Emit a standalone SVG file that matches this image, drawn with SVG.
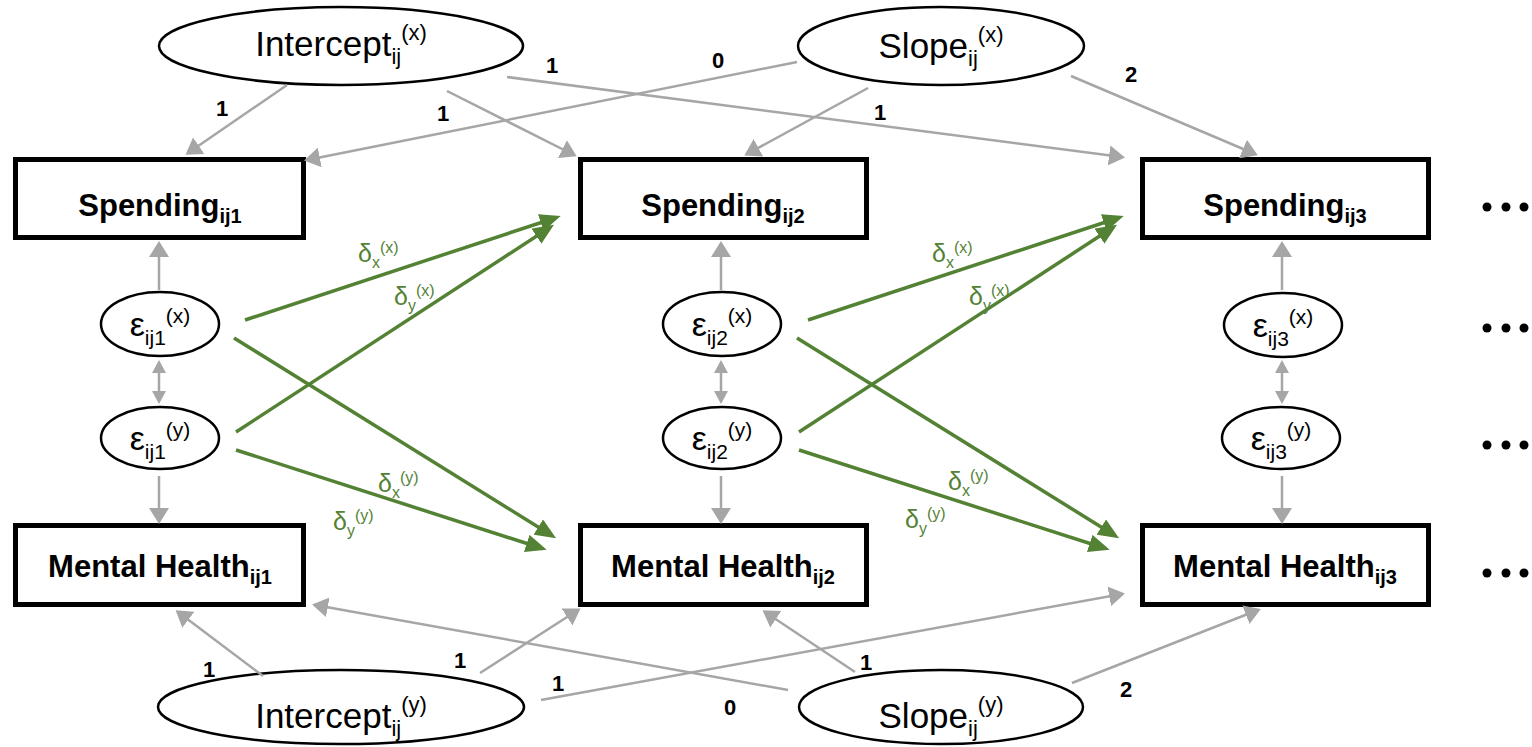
<svg xmlns="http://www.w3.org/2000/svg" width="1532" height="747" viewBox="0 0 1532 747">
<defs>
<style>
.box{fill:#fff;stroke:#000;stroke-width:5}
.ell{fill:#fff;stroke:#000;stroke-width:2.5}
.bt{font-family:"Liberation Sans",Arial,sans-serif;font-weight:bold;font-size:31px;fill:#000}
.et{font-family:"Liberation Sans",Arial,sans-serif;font-size:35px;fill:#000}
.ep{font-family:"Liberation Sans",Arial,sans-serif;font-size:34px;fill:#000}
.g{stroke:#a6a6a6;stroke-width:2.5;fill:none}
.gr{stroke:#548235;stroke-width:3.5;fill:none}
.lab{font-family:"Liberation Sans",Arial,sans-serif;font-weight:bold;font-size:22px;fill:#000;text-anchor:middle}
.dl{font-family:"Liberation Sans",Arial,sans-serif;font-size:25px;fill:#548235}
</style>
<marker id="ag" markerUnits="userSpaceOnUse" markerWidth="18" markerHeight="20" refX="13" refY="10" orient="auto">
<path d="M0,0 L16,10 L0,20 Z" fill="#a6a6a6"/>
</marker>
<marker id="as" markerUnits="userSpaceOnUse" markerWidth="14" markerHeight="14" refX="10" refY="7" orient="auto-start-reverse">
<path d="M0,0 L13,7 L0,14 Z" fill="#a6a6a6"/>
</marker>
<marker id="agr" markerUnits="userSpaceOnUse" markerWidth="22" markerHeight="18" refX="15" refY="9" orient="auto">
<path d="M0,0 L21,9 L0,18 Z" fill="#548235"/>
</marker>
</defs>
<rect width="1532" height="747" fill="#fff"/>

<g id="intercept-x">
<ellipse class="ell" cx="341" cy="46" rx="182" ry="39"/>
<text class="et" x="341" y="56" text-anchor="middle">Intercept<tspan font-size="22" dy="8">ij</tspan><tspan font-size="22" dy="-24">(x)</tspan></text>
</g>
<g id="slope-x">
<ellipse class="ell" cx="941" cy="46" rx="143" ry="39"/>
<text class="et" x="941" y="58" text-anchor="middle">Slope<tspan font-size="22" dy="8">ij</tspan><tspan font-size="22" dy="-24">(x)</tspan></text>
</g>

<g id="spending1">
<rect class="box" x="15.5" y="159.5" width="288" height="78"/>
<text class="bt" x="160" y="216" text-anchor="middle">Spending<tspan font-size="20" dy="7">ij1</tspan></text>
</g>
<g id="spending2">
<rect class="box" x="580.5" y="159.5" width="286" height="78"/>
<text class="bt" x="723" y="216" text-anchor="middle">Spending<tspan font-size="20" dy="7">ij2</tspan></text>
</g>
<g id="spending3">
<rect class="box" x="1142.5" y="159.5" width="286" height="78"/>
<text class="bt" x="1285" y="216" text-anchor="middle">Spending<tspan font-size="20" dy="7">ij3</tspan></text>
</g>

<g id="eps1x">
<ellipse class="ell" cx="160" cy="324" rx="59" ry="32"/>
<text class="ep" x="160" y="336" text-anchor="middle">ε<tspan font-size="21" dy="9">ij1</tspan><tspan font-size="21" dy="-22">(x)</tspan></text>
</g>
<g id="eps1y">
<ellipse class="ell" cx="160" cy="438" rx="59" ry="31"/>
<text class="ep" x="160" y="450" text-anchor="middle">ε<tspan font-size="21" dy="9">ij1</tspan><tspan font-size="21" dy="-22">(y)</tspan></text>
</g>
<g id="eps2x">
<ellipse class="ell" cx="722" cy="324" rx="59" ry="32"/>
<text class="ep" x="722" y="336" text-anchor="middle">ε<tspan font-size="21" dy="9">ij2</tspan><tspan font-size="21" dy="-22">(x)</tspan></text>
</g>
<g id="eps2y">
<ellipse class="ell" cx="722" cy="438" rx="59" ry="31"/>
<text class="ep" x="722" y="450" text-anchor="middle">ε<tspan font-size="21" dy="9">ij2</tspan><tspan font-size="21" dy="-22">(y)</tspan></text>
</g>
<g id="eps3x">
<ellipse class="ell" cx="1283" cy="325" rx="59" ry="32"/>
<text class="ep" x="1283" y="337" text-anchor="middle">ε<tspan font-size="21" dy="9">ij3</tspan><tspan font-size="21" dy="-22">(x)</tspan></text>
</g>
<g id="eps3y">
<ellipse class="ell" cx="1281" cy="438" rx="59" ry="31"/>
<text class="ep" x="1281" y="450" text-anchor="middle">ε<tspan font-size="21" dy="9">ij3</tspan><tspan font-size="21" dy="-22">(y)</tspan></text>
</g>

<g id="mh1">
<rect class="box" x="15.5" y="525.5" width="288" height="79"/>
<text class="bt" x="160" y="577" text-anchor="middle">Mental Health<tspan font-size="20" dy="7">ij1</tspan></text>
</g>
<g id="mh2">
<rect class="box" x="580.5" y="525.5" width="286" height="79"/>
<text class="bt" x="723" y="577" text-anchor="middle">Mental Health<tspan font-size="20" dy="7">ij2</tspan></text>
</g>
<g id="mh3">
<rect class="box" x="1142.5" y="525.5" width="286" height="79"/>
<text class="bt" x="1285" y="577" text-anchor="middle">Mental Health<tspan font-size="20" dy="7">ij3</tspan></text>
</g>

<g id="intercept-y">
<ellipse class="ell" cx="341" cy="707" rx="183" ry="37"/>
<text class="et" x="341" y="728" text-anchor="middle">Intercept<tspan font-size="22" dy="8">ij</tspan><tspan font-size="22" dy="-24">(y)</tspan></text>
</g>
<g id="slope-y">
<ellipse class="ell" cx="941" cy="707" rx="142" ry="37"/>
<text class="et" x="941" y="728" text-anchor="middle">Slope<tspan font-size="22" dy="8">ij</tspan><tspan font-size="22" dy="-24">(y)</tspan></text>
</g>

<g id="dots">
<circle cx="1487" cy="207" r="4.5"/><circle cx="1506" cy="207" r="4.5"/><circle cx="1524" cy="207" r="4.5"/>
<circle cx="1487" cy="328" r="4.5"/><circle cx="1506" cy="328" r="4.5"/><circle cx="1524" cy="328" r="4.5"/>
<circle cx="1487" cy="445" r="4.5"/><circle cx="1506" cy="445" r="4.5"/><circle cx="1524" cy="445" r="4.5"/>
<circle cx="1487" cy="573" r="4.5"/><circle cx="1506" cy="573" r="4.5"/><circle cx="1524" cy="573" r="4.5"/>
</g>

<g id="connectors">
<line class="g" x1="287" y1="85" x2="188" y2="153" marker-end="url(#ag)"/>
<line class="g" x1="447" y1="91" x2="574" y2="155" marker-end="url(#ag)"/>
<line class="g" x1="507" y1="77" x2="1122" y2="157" marker-end="url(#ag)"/>
<line class="g" x1="797" y1="62" x2="307" y2="160" marker-end="url(#ag)"/>
<line class="g" x1="868" y1="88" x2="747" y2="154" marker-end="url(#ag)"/>
<line class="g" x1="1071" y1="76" x2="1255" y2="154" marker-end="url(#ag)"/>

<line class="g" x1="159" y1="290" x2="159" y2="244" marker-end="url(#ag)"/>
<line class="g" x1="159" y1="363" x2="159" y2="401" marker-start="url(#as)" marker-end="url(#as)"/>
<line class="g" x1="159" y1="476" x2="159" y2="521" marker-end="url(#ag)"/>
<line class="g" x1="721" y1="290" x2="721" y2="244" marker-end="url(#ag)"/>
<line class="g" x1="721" y1="363" x2="721" y2="401" marker-start="url(#as)" marker-end="url(#as)"/>
<line class="g" x1="721" y1="476" x2="721" y2="521" marker-end="url(#ag)"/>
<line class="g" x1="1282" y1="290" x2="1282" y2="244" marker-end="url(#ag)"/>
<line class="g" x1="1282" y1="363" x2="1282" y2="401" marker-start="url(#as)" marker-end="url(#as)"/>
<line class="g" x1="1282" y1="476" x2="1282" y2="521" marker-end="url(#ag)"/>

<line class="gr" x1="245" y1="320" x2="555" y2="218" marker-end="url(#agr)"/>
<line class="gr" x1="236" y1="432" x2="549" y2="228" marker-end="url(#agr)"/>
<line class="gr" x1="234" y1="338" x2="551" y2="535" marker-end="url(#agr)"/>
<line class="gr" x1="236" y1="450" x2="541" y2="548" marker-end="url(#agr)"/>
<line class="gr" x1="808" y1="320" x2="1118" y2="218" marker-end="url(#agr)"/>
<line class="gr" x1="799" y1="432" x2="1112" y2="228" marker-end="url(#agr)"/>
<line class="gr" x1="797" y1="338" x2="1114" y2="535" marker-end="url(#agr)"/>
<line class="gr" x1="799" y1="450" x2="1104" y2="548" marker-end="url(#agr)"/>

<line class="g" x1="263" y1="676" x2="178" y2="612" marker-end="url(#ag)"/>
<line class="g" x1="480" y1="673" x2="578" y2="610" marker-end="url(#ag)"/>
<line class="g" x1="541" y1="700" x2="1122" y2="594" marker-end="url(#ag)"/>
<line class="g" x1="788" y1="690" x2="315" y2="605" marker-end="url(#ag)"/>
<line class="g" x1="855" y1="672" x2="765" y2="612" marker-end="url(#ag)"/>
<line class="g" x1="1072" y1="683" x2="1258" y2="610" marker-end="url(#ag)"/>

<text class="lab" x="222" y="116">1</text>
<text class="lab" x="443" y="121">1</text>
<text class="lab" x="552" y="73">1</text>
<text class="lab" x="718" y="68">0</text>
<text class="lab" x="880" y="120">1</text>
<text class="lab" x="1131" y="82">2</text>
<text class="lab" x="209" y="677">1</text>
<text class="lab" x="460" y="668">1</text>
<text class="lab" x="558" y="691">1</text>
<text class="lab" x="730" y="715">0</text>
<text class="lab" x="866" y="670">1</text>
<text class="lab" x="1126" y="697">2</text>

<text class="dl" x="358" y="262">δ<tspan font-size="16" dy="6">x</tspan><tspan font-size="16" dy="-15">(x)</tspan></text>
<text class="dl" x="394" y="305">δ<tspan font-size="16" dy="6">y</tspan><tspan font-size="16" dy="-15">(x)</tspan></text>
<text class="dl" x="378" y="492">δ<tspan font-size="16" dy="6">x</tspan><tspan font-size="16" dy="-15">(y)</tspan></text>
<text class="dl" x="333" y="530">δ<tspan font-size="16" dy="6">y</tspan><tspan font-size="16" dy="-15">(y)</tspan></text>
<text class="dl" x="932" y="262">δ<tspan font-size="16" dy="6">x</tspan><tspan font-size="16" dy="-15">(x)</tspan></text>
<text class="dl" x="969" y="305">δ<tspan font-size="16" dy="6">y</tspan><tspan font-size="16" dy="-15">(x)</tspan></text>
<text class="dl" x="948" y="490">δ<tspan font-size="16" dy="6">x</tspan><tspan font-size="16" dy="-15">(y)</tspan></text>
<text class="dl" x="905" y="528">δ<tspan font-size="16" dy="6">y</tspan><tspan font-size="16" dy="-15">(y)</tspan></text>
</g>
</svg>
